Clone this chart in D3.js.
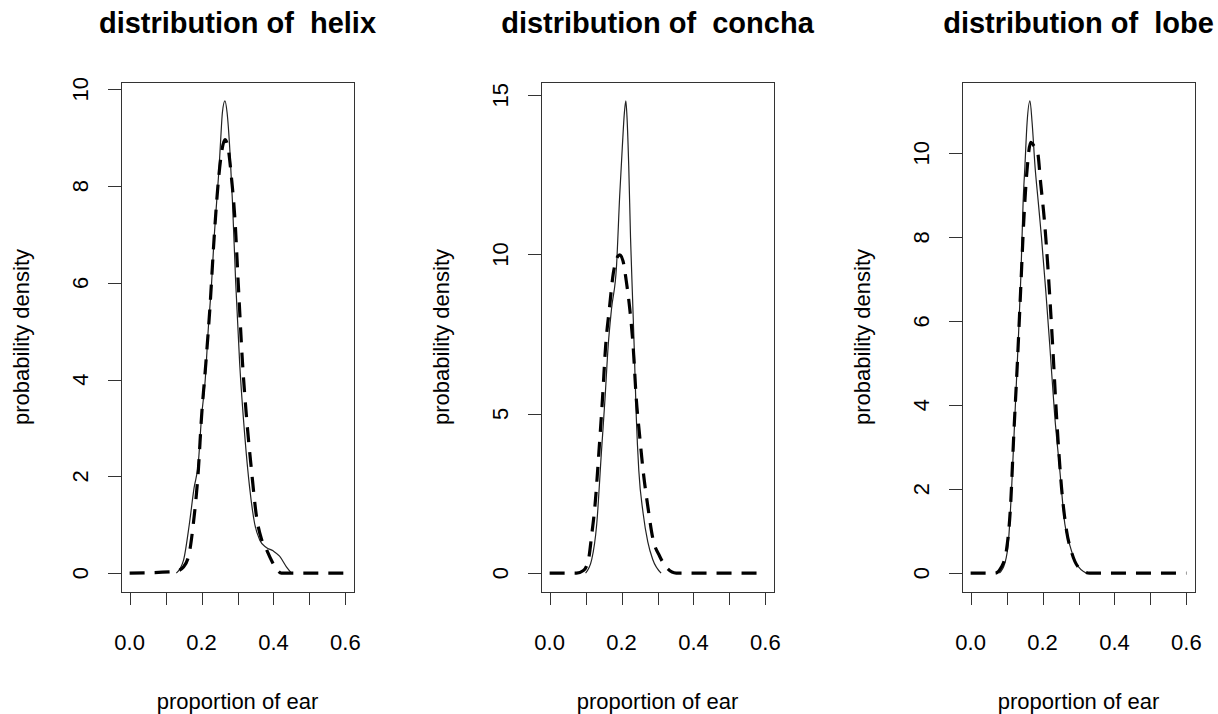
<!DOCTYPE html>
<html>
<head>
<meta charset="utf-8">
<script src="https://cdn.jsdelivr.net/npm/d3@7"></script>
<style>
  body { margin: 0; background: #fff; }
  text { font-family: "Liberation Sans", Arial, sans-serif; fill: #000; }
</style>
</head>
<body>
<div id="chartDiv"></div>
<script>
// panel names, in order
var partNames = ["helix", "concha", "lobe"];

// solid line = observed density, [proportion, density]
var helixSolid = [[0.13,0],[0.15,0.27],[0.166,1.01],[0.179,1.75],[0.191,2.27],[0.2,3.23],[0.21,3.97],[0.219,5.08],[0.228,6.0],[0.235,6.93],[0.242,7.67],[0.249,8.41],[0.253,8.93],[0.258,9.52],[0.265,9.76],[0.271,9.52],[0.279,8.71],[0.286,7.67],[0.295,6.0],[0.306,4.34],[0.32,2.86],[0.334,1.75],[0.348,1.01],[0.362,0.68],[0.38,0.53],[0.399,0.46],[0.417,0.35],[0.436,0.13],[0.45,0]];
var conchaSolid = [[0.1,0],[0.117,0.42],[0.131,1.54],[0.144,3.79],[0.154,5.47],[0.163,7.16],[0.172,8.28],[0.186,9.63],[0.195,11.88],[0.202,13.34],[0.208,14.46],[0.212,14.82],[0.215,14.35],[0.22,12.78],[0.225,10.53],[0.23,8.84],[0.235,7.16],[0.241,4.91],[0.248,3.22],[0.26,1.88],[0.273,0.98],[0.287,0.42],[0.31,0]];
var lobeSolid = [[0.08,0],[0.095,0.23],[0.105,0.74],[0.114,2.02],[0.123,3.73],[0.132,5.44],[0.14,7.14],[0.146,8.85],[0.151,9.7],[0.157,10.73],[0.165,11.25],[0.171,10.73],[0.179,9.7],[0.188,8.85],[0.197,8.0],[0.209,6.72],[0.22,5.44],[0.234,3.73],[0.248,2.45],[0.262,1.17],[0.276,0.66],[0.294,0.23],[0.322,0]];

// dashed line = fitted density
var helixDashed = [[0,0],[0.126,0.03],[0.15,0.13],[0.166,0.42],[0.177,1.01],[0.191,2.12],[0.2,3.23],[0.212,4.34],[0.223,5.45],[0.235,6.93],[0.246,8.04],[0.256,8.71],[0.265,8.96],[0.274,8.78],[0.283,8.19],[0.293,7.3],[0.302,6.0],[0.314,4.34],[0.325,3.23],[0.339,2.12],[0.353,1.16],[0.366,0.72],[0.38,0.5],[0.394,0.27],[0.408,0.09],[0.422,0],[0.6,0]];
var conchaDashed = [[0,0],[0.075,0],[0.094,0.08],[0.108,0.42],[0.117,1.2],[0.126,2.1],[0.137,3.79],[0.147,5.47],[0.156,7.16],[0.166,8.28],[0.177,9.4],[0.188,9.91],[0.195,9.99],[0.204,9.8],[0.213,9.18],[0.223,8.28],[0.232,7.16],[0.241,5.47],[0.25,4.35],[0.26,3.22],[0.273,2.1],[0.287,1.09],[0.306,0.53],[0.324,0.19],[0.352,0],[0.6,0]];
var lobeDashed = [[0,0],[0.068,0],[0.086,0.15],[0.1,0.57],[0.111,1.6],[0.12,3.3],[0.13,5.01],[0.139,6.72],[0.148,8.42],[0.157,9.62],[0.167,10.26],[0.177,10.17],[0.186,10.04],[0.195,9.27],[0.205,8.42],[0.216,7.14],[0.228,5.44],[0.239,3.73],[0.253,2.02],[0.267,1.0],[0.281,0.49],[0.299,0.15],[0.331,0],[0.6,0]];

// axis ticks
var xTicks = [0, 0.1, 0.2, 0.3, 0.4, 0.5, 0.6];
var xTickLabels = [0, 0.2, 0.4, 0.6];
var helixYTicks = [0, 2, 4, 6, 8, 10];
var conchaYTicks = [0, 5, 10, 15];
var lobeYTicks = [0, 2, 4, 6, 8, 10];

var solidSeries = [helixSolid, conchaSolid, lobeSolid];
var dashedSeries = [helixDashed, conchaDashed, lobeDashed];
var yTickSets = [helixYTicks, conchaYTicks, lobeYTicks];

var width = 1218, height = 714;
var boxLefts = [121, 541, 962], boxW = 233, boxTop = 82, boxBottom = 592;

var svg = d3.select("#chartDiv")
  .append("svg")
    .attr("width", width)
    .attr("height", height);

for (var i = 0; i < partNames.length; i++) {
  var left = boxLefts[i];
  var ymax = d3.max(solidSeries[i].concat(dashedSeries[i]), function(d) { return d[1]; });

  // R style: 4% padding on each side
  var x = d3.scaleLinear().domain([-0.024, 0.624]).range([left, left + boxW]);
  var y = d3.scaleLinear().domain([-0.04 * ymax, 1.04 * ymax]).range([boxBottom, boxTop]);

  var g = svg.append("g");

  g.append("rect")
    .attr("x", left + 0.5).attr("y", boxTop + 0.5)
    .attr("width", boxW).attr("height", boxBottom - boxTop)
    .attr("fill", "none").attr("stroke", "#333").attr("stroke-width", 1);

  // x axis
  g.append("line")
    .attr("x1", x(0)).attr("x2", x(0.6))
    .attr("y1", boxBottom + 0.5).attr("y2", boxBottom + 0.5)
    .attr("stroke", "#333");
  g.selectAll(".xt").data(xTicks).enter().append("line")
    .attr("x1", function(d) { return Math.round(x(d)) + 0.5; })
    .attr("x2", function(d) { return Math.round(x(d)) + 0.5; })
    .attr("y1", boxBottom).attr("y2", boxBottom + 13)
    .attr("stroke", "#333");
  g.selectAll(".xl").data(xTickLabels).enter().append("text")
    .attr("x", function(d) { return x(d); })
    .attr("y", 650)
    .attr("text-anchor", "middle")
    .style("font-size", "22px")
    .text(function(d) { return d3.format(".1f")(d); });

  // y axis
  var yt = yTickSets[i];
  g.append("line")
    .attr("x1", left + 0.5).attr("x2", left + 0.5)
    .attr("y1", y(yt[0])).attr("y2", y(yt[yt.length - 1]))
    .attr("stroke", "#333");
  g.selectAll(".yt").data(yt).enter().append("line")
    .attr("x1", left - 13).attr("x2", left)
    .attr("y1", function(d) { return Math.round(y(d)) + 0.5; })
    .attr("y2", function(d) { return Math.round(y(d)) + 0.5; })
    .attr("stroke", "#333");
  g.selectAll(".yl").data(yt).enter().append("text")
    .attr("transform", function(d) { return "translate(" + (left - 33) + "," + y(d) + ")rotate(-90)"; })
    .attr("text-anchor", "middle")
    .style("font-size", "22px")
    .text(function(d) { return d; });

  // labels and title
  g.append("text")
    .attr("transform", "translate(" + (left - 92) + "," + ((boxTop + boxBottom) / 2) + ")rotate(-90)")
    .attr("text-anchor", "middle")
    .style("font-size", "22px")
    .text("probability density");
  g.append("text")
    .attr("x", left + boxW / 2).attr("y", 709)
    .attr("text-anchor", "middle")
    .style("font-size", "22px")
    .text("proportion of ear");
  g.append("text")
    .attr("x", left + boxW / 2).attr("y", 33)
    .attr("text-anchor", "middle")
    .style("font-size", "29px")
    .style("font-weight", "bold")
    .text("distribution of  " + partNames[i])
    .attr("xml:space", "preserve")
    .style("white-space", "pre");

  var line = d3.line()
    .x(function(d) { return x(d[0]); })
    .y(function(d) { return y(d[1]); })
    .curve(d3.curveMonotoneX);

  g.append("path")
    .datum(solidSeries[i])
    .attr("d", line)
    .attr("fill", "none")
    .attr("stroke", "#222")
    .attr("stroke-width", 1.2);

  g.append("path")
    .datum(dashedSeries[i])
    .attr("d", line)
    .attr("fill", "none")
    .attr("stroke", "#000")
    .attr("stroke-width", 3.2)
    .attr("stroke-dasharray", "15,10");
}
</script>
</body>
</html>
